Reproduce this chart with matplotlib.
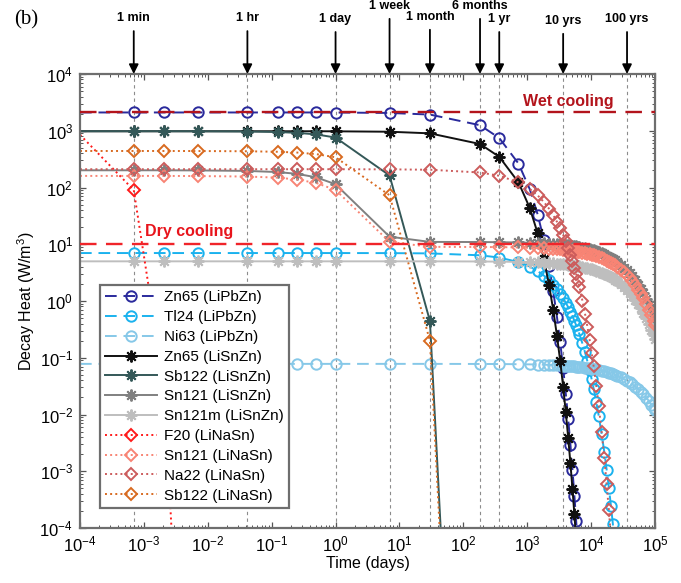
import numpy as np
import matplotlib.pyplot as plt
from matplotlib.ticker import LogLocator, NullFormatter

plt.rcParams['font.family'] = ['Liberation Sans', 'DejaVu Sans']
plt.rcParams['mathtext.fontset'] = 'custom'
plt.rcParams['mathtext.rm'] = 'Liberation Sans'
plt.rcParams['mathtext.it'] = 'Liberation Sans:italic'
plt.rcParams['mathtext.bf'] = 'Liberation Sans:bold'

# cooling times in days: short-term points, then yearly steps
days_early = [1e-4, 6.94e-4, 2.08e-3, 6.94e-3, 4.17e-2, 0.125, 0.25, 0.5, 1.0, 7.0, 30.0, 182.5]
years_late = [1, 2, 3, 4, 5, 6, 7, 8, 9, 10, 11, 12, 13, 14, 15, 16, 17, 18,
              20, 22, 24, 26, 28, 30, 33, 36, 40, 44, 48, 52, 56, 60,
              65, 70, 80, 90, 100, 110, 120, 135, 150, 165, 180, 200, 220, 240, 260, 274]
time_days = np.array(days_early + [365.0 * y for y in years_late])

# decay heat, W/m^3
zn65_lipbzn = [2100, 2100, 2100, 2100, 2100, 2100, 2100, 2100, 2094, 2059, 1928, 1252,
               744.7, 264.1, 93.6, 33.2, 11.78, 4.18, 1.482, 0.525, 0.186, 0.0661,
               0.0234, 0.00831, 0.00295, 0.001045, 0.000371, 0.000131, 4.66e-5]
tl24_lipbzn = [7.0, 7.0, 7.0, 7.0, 7.0, 7.0, 7.0, 7.0, 7.0, 6.98, 6.90, 6.39,
               5.83, 4.85, 4.04, 3.36, 2.80, 2.33, 1.94, 1.617, 1.346, 1.121, 0.933, 0.777,
               0.647, 0.539, 0.448, 0.373, 0.311, 0.259, 0.1795, 0.1244, 0.0862, 0.0598,
               0.0414, 0.0287, 0.0166, 0.00956, 0.00459, 0.00221, 0.00106, 0.000509,
               0.000245, 0.000118, 4.7e-5]
ni63_lipbzn = [0.078, 0.078, 0.078, 0.078, 0.078, 0.078, 0.078, 0.078, 0.078, 0.078, 0.078, 0.0777,
               0.0775, 0.0769, 0.0764, 0.0759, 0.0754, 0.0748, 0.0743, 0.0738, 0.0733, 0.0728,
               0.0723, 0.0718, 0.0713, 0.0708, 0.0704, 0.0699, 0.0694, 0.0690, 0.0680, 0.0671,
               0.0662, 0.0653, 0.0644, 0.0636, 0.0623, 0.0611, 0.0594, 0.0578, 0.0562, 0.0546,
               0.0531, 0.0517, 0.0499, 0.0482, 0.0451, 0.0420, 0.0393, 0.0367, 0.0342, 0.0309,
               0.0279, 0.0252, 0.0227, 0.0198, 0.0173, 0.0150, 0.0131, 0.0119]
zn65_lisnzn = [980, 980, 980, 980, 980, 980, 980, 980, 977, 961, 900, 584,
               347.5, 123.2, 43.7, 15.5, 5.50, 1.95, 0.691, 0.245, 0.0869, 0.0308,
               0.0109, 0.00388, 0.00137, 0.000487, 0.000173, 6.1e-5, 2.2e-5]
sb122_lisnzn = [980, 980, 980, 978, 970, 949, 919, 862, 759, 163, 0.444, 4e-18]
sn121_lisnzn = [201, 201, 201, 200, 196, 187, 174, 151, 114, 13.6, 11.0, 10.94,
                10.87, 10.75, 10.63, 10.50, 10.38, 10.26, 10.15, 10.03, 9.91, 9.80,
                9.69, 9.58, 9.47, 9.36, 9.25, 9.14, 9.04, 8.94, 8.73, 8.53, 8.34, 8.15,
                7.96, 7.78, 7.52, 7.26, 6.93, 6.62, 6.32, 6.03, 5.76, 5.50, 5.19, 4.90,
                4.37, 3.89, 3.47, 3.09, 2.75, 2.31, 1.94, 1.64, 1.375, 1.09, 0.866,
                0.688, 0.546, 0.462]
sn121m_lisnzn = [5.0, 5.0, 5.0, 5.0, 5.0, 5.0, 5.0, 5.0, 5.0, 5.0, 5.0, 4.97,
                 4.94, 4.89, 4.83, 4.77, 4.72, 4.67, 4.61, 4.56, 4.51, 4.45,
                 4.40, 4.35, 4.30, 4.25, 4.21, 4.16, 4.11, 4.06, 3.97, 3.88, 3.79, 3.70,
                 3.62, 3.54, 3.42, 3.30, 3.15, 3.01, 2.87, 2.74, 2.62, 2.50, 2.36, 2.23,
                 1.98, 1.77, 1.58, 1.40, 1.25, 1.05, 0.884, 0.744, 0.625, 0.496, 0.394,
                 0.313, 0.248, 0.210]
f20_linasn = [850, 90, 0.03, 1.1e-13]
sn121_linasn = [160, 160, 160, 159, 156, 149, 138, 120, 90.6, 11.0, 9.0, 8.95,
                8.90, 8.79, 8.69, 8.59, 8.50, 8.40, 8.30, 8.21, 8.11, 8.02,
                7.93, 7.84, 7.75, 7.66, 7.57, 7.48, 7.40, 7.31, 7.14, 6.98, 6.82, 6.67,
                6.51, 6.36, 6.15, 5.94, 5.67, 5.42, 5.17, 4.94, 4.71, 4.50, 4.25, 4.01,
                3.57, 3.18, 2.84, 2.53, 2.25, 1.89, 1.59, 1.34, 1.125, 0.893, 0.708,
                0.563, 0.446, 0.378]
na22_linasn = [210, 210, 210, 210, 210, 210, 210, 210, 209.8, 208.9, 205.5, 183.8,
               160.9, 123.3, 94.4, 72.4, 55.4, 42.5, 32.5, 24.9, 19.1, 14.6,
               11.2, 8.58, 6.58, 5.04, 3.86, 2.96, 2.27, 1.74, 1.02, 0.598, 0.351, 0.206,
               0.121, 0.0709, 0.0319, 0.0143, 0.00494, 0.00171, 0.000590, 0.000204, 7.0e-5]
sb122_linasn = [440, 440, 440, 439, 435, 426, 413, 387, 341, 73.0, 0.199, 1.8e-18]

wet_cooling = 2100
dry_cooling = 10

marks = ['1 min', '1 hr', '1 day', '1 week', '1 month', '6 months', '1 yr', '10 yrs', '100 yrs']
mark_days = [6.94e-4, 4.17e-2, 1.0, 7.0, 30.0, 182.5, 365.0, 3650.0, 36500.0]
mark_text_y = [1.123, 1.123, 1.121, 1.150, 1.126, 1.150, 1.121, 1.117, 1.121]

x_decades = [1e-4, 1e-3, 1e-2, 1e-1, 1e0, 1e1, 1e2, 1e3, 1e4, 1e5]
y_decades = [1e-4, 1e-3, 1e-2, 1e-1, 1e0, 1e1, 1e2, 1e3, 1e4]

star = (8, 2, 0)
dash = (0, (6, 3.5))
curves = [
    (zn65_lipbzn, 'Zn65 (LiPbZn)', '#2a2a9c', dash, 'o'),
    (tl24_lipbzn, 'Tl24 (LiPbZn)', '#1ab2ee', dash, 'o'),
    (ni63_lipbzn, 'Ni63 (LiPbZn)', '#86c8e8', dash, 'o'),
    (zn65_lisnzn, 'Zn65 (LiSnZn)', '#111111', '-', star),
    (sb122_lisnzn, 'Sb122 (LiSnZn)', '#345858', '-', star),
    (sn121_lisnzn, 'Sn121 (LiSnZn)', '#808080', '-', star),
    (sn121m_lisnzn, 'Sn121m (LiSnZn)', '#bebebe', '-', star),
    (f20_linasn, 'F20 (LiNaSn)', '#ff1a1a', ':', 'D'),
    (sn121_linasn, 'Sn121 (LiNaSn)', '#f88474', ':', 'D'),
    (na22_linasn, 'Na22 (LiNaSn)', '#cc5c5c', ':', 'D'),
    (sb122_linasn, 'Sb122 (LiNaSn)', '#d86a20', ':', 'D'),
]

fig = plt.figure(figsize=(6.81, 5.83), dpi=100)
ax = fig.add_axes([80 / 681, 1 - 528 / 583, 575 / 681, 454 / 583])
ax.set_xscale('log')
ax.set_yscale('log')

for t in mark_days:
    ax.axvline(t, color='#8c8c8c', ls=(0, (3, 3)), lw=0.8, zorder=0)

for vals, lab, col, ls, mk in curves:
    n = len(vals)
    size = 8.5 if mk == star else (6.0 if mk == 'D' else 7.5)
    ax.plot(time_days[:n], vals, ls=ls, color=col, lw=1.4, marker=mk, ms=size,
            mfc='none', mec=col, mew=1.4, markevery=slice(1, None), label=lab)

ax.axhline(wet_cooling, color='#b3141c', ls=(0, (7, 4)), lw=1.7, zorder=5)
ax.axhline(dry_cooling, color='#f0242a', ls=(0, (7, 4)), lw=1.7, zorder=5)
ax.text(10 ** 3.64, 10 ** 3.52, 'Wet cooling', color='#b3141c', fontsize=11.5,
        fontweight='bold', ha='center', va='center')
ax.text(10 ** -2.29, 10 ** 1.22, 'Dry cooling', color='#e8141c', fontsize=11.5,
        fontweight='bold', ha='center', va='center')

for lab, t, yt in zip(marks, mark_days, mark_text_y):
    ax.annotate(lab, xy=(t, 1.0), xycoords=('data', 'axes fraction'),
                xytext=(t, yt), textcoords=('data', 'axes fraction'),
                ha='center', va='center', fontsize=9, fontweight='bold',
                arrowprops=dict(arrowstyle='-|>', color='k', lw=1.3,
                                mutation_scale=14, shrinkA=3, shrinkB=0),
                annotation_clip=False)

ax.set_xlim(1e-4, 1e5)
ax.set_ylim(1e-4, 1e4)
ax.set_xticks(x_decades)
ax.set_yticks(y_decades)
for axis in (ax.xaxis, ax.yaxis):
    axis.set_minor_locator(LogLocator(base=10, subs=np.arange(2, 10), numticks=20))
    axis.set_minor_formatter(NullFormatter())
ax.tick_params(which='both', direction='in', top=True, right=True, colors='#555555',
               labelcolor='black', labelsize=12)
ax.tick_params(which='major', length=4, width=0.9, pad=5)
ax.tick_params(which='minor', length=2.2, width=0.7)
for sp in ax.spines.values():
    sp.set_color('#6e6e6e')
    sp.set_linewidth(1.6)

ax.set_xlabel('Time (days)', fontsize=11.5, labelpad=1)
ax.set_ylabel('Decay Heat (W/m$^3$)', fontsize=11.5, labelpad=2)

leg = ax.legend(loc='upper left', bbox_to_anchor=(0.035, 0.535), borderaxespad=0,
                fontsize=11, numpoints=1, handlelength=3.4, handletextpad=0.4,
                labelspacing=0.38, borderpad=0.35, fancybox=False, framealpha=1)
leg.get_frame().set_edgecolor('#6e6e6e')
leg.get_frame().set_linewidth(1.6)

fig.text(26 / 681, 1 - 20 / 583, '(b)', family='Liberation Serif', fontsize=15,
         ha='center', va='center')

fig.savefig('out.png', dpi=100)
